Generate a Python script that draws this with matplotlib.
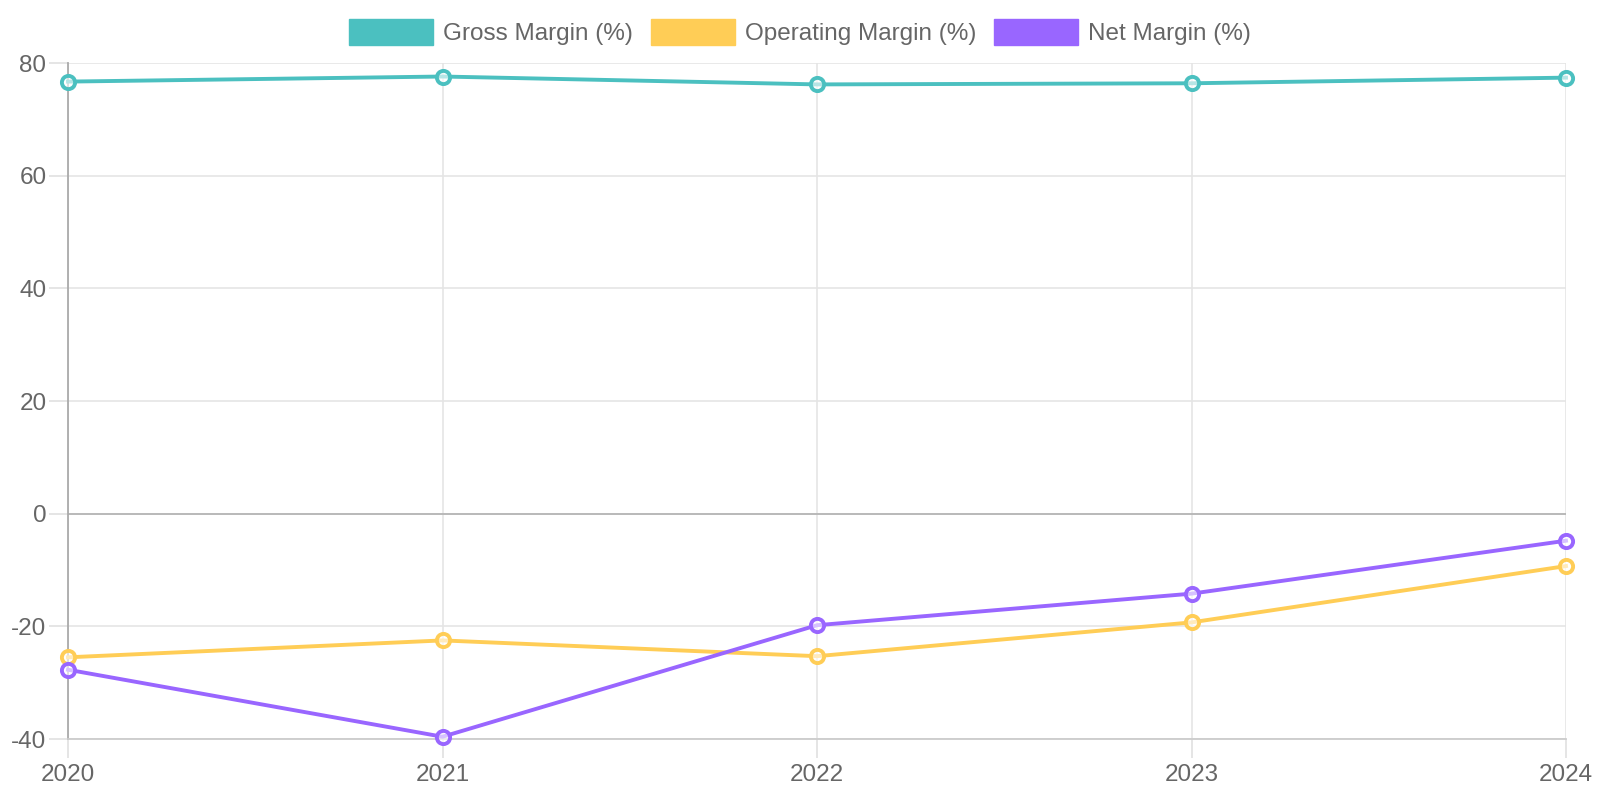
import matplotlib
matplotlib.use("Agg")
from matplotlib import pyplot as plt
from matplotlib.patches import Patch

years = [2020, 2021, 2022, 2023, 2024]
gross_margin = [76.7, 77.6, 76.2, 76.4, 77.4]
operating_margin = [-25.5, -22.5, -25.3, -19.3, -9.3]
net_margin = [-27.7, -39.6, -19.8, -14.2, -4.8]

series_names = ["Gross Margin (%)", "Operating Margin (%)", "Net Margin (%)"]
colors = ["#4bc0c0", "#ffcd56", "#9966ff"]

plt.rcParams['font.family'] = ['Liberation Sans', 'DejaVu Sans']
plt.rcParams['axes.unicode_minus'] = False
text_color = "#666666"

fig = plt.figure(figsize=(16, 8), dpi=100)
ax = fig.add_axes([68 / 1600, 1 - 739 / 800, (1566 - 68) / 1600, (739 - 63) / 800])

for values, color in zip([gross_margin, operating_margin, net_margin], colors):
    ax.plot(years, values, '-', color=color, linewidth=2.8, zorder=3, clip_on=False)
    ax.plot(years, values, 'o', markersize=9.5, markerfacecolor=(1, 1, 1, 0.6),
            markeredgecolor=color, markeredgewidth=2.8, zorder=4, clip_on=False)

ax.set_xlim(2020, 2024)
ax.set_ylim(-40, 80)
ax.set_xticks(years)
ax.set_yticks(range(-40, 81, 20))

ax.grid(True, color="#e5e5e5", linewidth=1.2)
ax.set_axisbelow(True)
ax.axhline(0, color="#b5b5b5", linewidth=1.3, zorder=1)

for side in ['top', 'right']:
    ax.spines[side].set_visible(False)
ax.spines['left'].set_color("#aaaaaa")
ax.spines['left'].set_linewidth(1.3)
ax.spines['bottom'].set_color("#cccccc")
ax.spines['bottom'].set_linewidth(1.3)

ax.tick_params(axis='both', colors="#e0e0e0", length=14, width=1.2,
               labelcolor=text_color, labelsize=17.5)
ax.tick_params(axis='x', pad=4)
ax.tick_params(axis='y', pad=1.5)

handles = [Patch(facecolor=c, edgecolor=c) for c in colors]
fig.legend(handles, series_names, loc='center', bbox_to_anchor=(0.5, 1 - 32 / 800),
           ncol=3, frameon=False, fontsize=17.5, labelcolor=text_color,
           handlelength=3.46, handleheight=1.25, handletextpad=0.41,
           columnspacing=0.74, borderpad=0)

fig.savefig('out.png', dpi=100)
